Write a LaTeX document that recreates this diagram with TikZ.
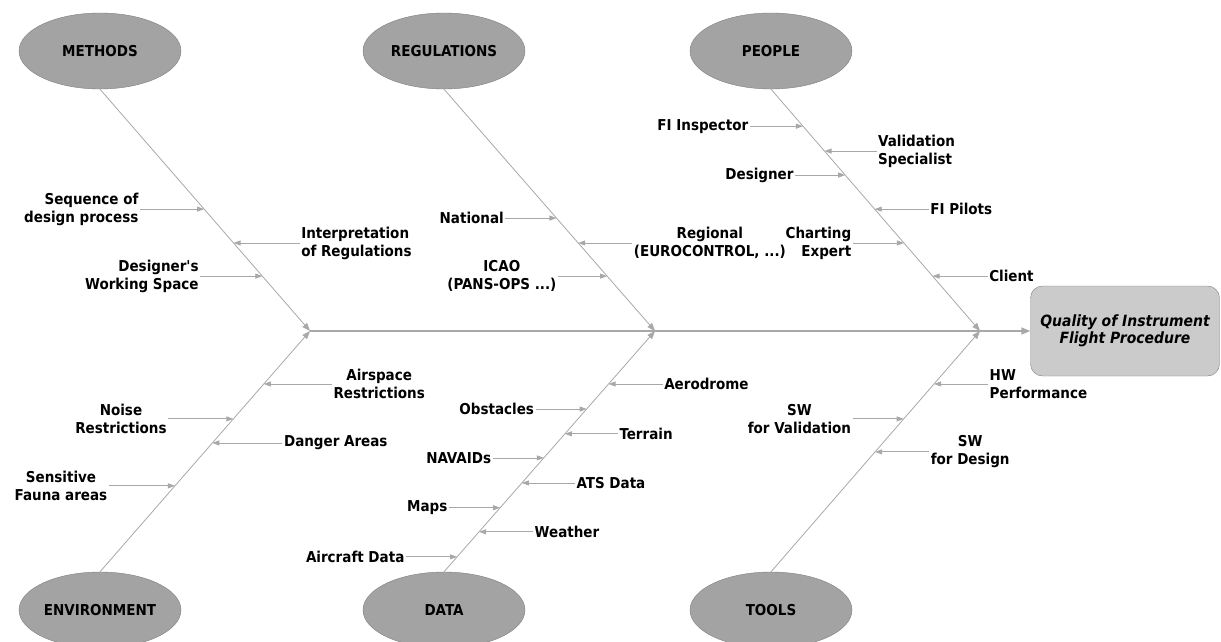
\documentclass[tikz,border=0pt]{standalone}
\usepackage{fontspec}
\setmainfont{DejaVu Sans Condensed}
\usetikzlibrary{shapes.geometric,positioning,arrows.meta}
\definecolor{bonegray}{HTML}{A8A8A8}
\definecolor{catfill}{HTML}{A3A3A3}
\definecolor{catline}{HTML}{7F7F7F}
\definecolor{effectfill}{HTML}{CBCBCB}

\begin{document}
\begin{tikzpicture}[x=1pt, y=-1pt,
    cat/.style={ellipse, draw=catline, fill=catfill, minimum width=162pt, minimum height=76pt,
        inner sep=0pt, font=\bfseries\fontsize{15}{18}\selectfont},
    effect/.style={draw=catline, fill=effectfill, rounded corners=12pt, minimum width=189pt,
        minimum height=90pt, align=center, font=\bfseries\itshape\fontsize{15.5}{17.5}\selectfont},
    lbl/.style={inner sep=1.5pt, font=\bfseries\fontsize{15}{18}\selectfont},
    bone/.style={draw=bonegray, line width=0.8pt, -{Triangle[length=8pt,width=6pt]}},
    sub/.style={draw=bonegray, line width=0.8pt, -{Triangle[length=7pt,width=5pt]}},
    spine/.style={draw=bonegray, line width=1.4pt, -{Triangle[length=9pt,width=7pt]}}]
        \useasboundingbox (0,0) rectangle (1221,642);

        % categories
        \node[cat] (met) at (100,51) {METHODS};
        \node[cat] (reg) at (444,51) {REGULATIONS};
        \node[cat] (peo) at (771,51) {PEOPLE};
        \node[cat] (env) at (100,610) {ENVIRONMENT};
        \node[cat] (dat) at (444,610) {DATA};
        \node[cat] (too) at (771,610) {TOOLS};

        \node[effect] (qual) at (1125,331) {Quality of Instrument\\Flight Procedure};

        \coordinate (j1) at (310,331);
        \coordinate (j2) at (655,331);
        \coordinate (j3) at (980,331);

        \draw[spine] (j1) -- (qual);

        \draw[bone] (met.south) -- (j1);
        \draw[bone] (reg.south) -- (j2);
        \draw[bone] (peo.south) -- (j3);
        \draw[bone] (env.north) -- (j1);
        \draw[bone] (dat.north) -- (j2);
        \draw[bone] (too.north) -- (j3);

        % points on the bones
        \path (met.south) -- (j1) coordinate[pos=.496] (m1) coordinate[pos=.636] (m2) coordinate[pos=.773] (m3);
        \path (reg.south) -- (j2) coordinate[pos=.533] (r1) coordinate[pos=.636] (r2) coordinate[pos=.773] (r3);
        \path (peo.south) -- (j3) coordinate[pos=.153] (p1) coordinate[pos=.256] (p2) coordinate[pos=.355] (p3)
            coordinate[pos=.496] (p4) coordinate[pos=.636] (p5) coordinate[pos=.773] (p6);
        \path (env.north) -- (j1) coordinate[pos=.780] (e1) coordinate[pos=.635] (e2) coordinate[pos=.535] (e3)
            coordinate[pos=.357] (e4);
        \path (dat.north) -- (j2) coordinate[pos=.780] (d1) coordinate[pos=.676] (d2) coordinate[pos=.573] (d3)
            coordinate[pos=.473] (d4) coordinate[pos=.369] (d5) coordinate[pos=.266] (d6)
            coordinate[pos=.166] (d7) coordinate[pos=.062] (d8);
        \path (too.north) -- (j3) coordinate[pos=.780] (t1) coordinate[pos=.635] (t2) coordinate[pos=.498] (t3);

        % methods
        \node[lbl, left=64pt of m1, align=right] (seq) {Sequence of\\design process};
        \draw[sub] (seq) -- (m1);
        \node[lbl, right=66pt of m2, align=left] (interp) {Interpretation\\of Regulations};
        \draw[sub] (interp) -- (m2);
        \node[lbl, left=62pt of m3, align=right] (space) {Designer\textquotesingle s\\Working Space};
        \draw[sub] (space) -- (m3);

        % regulations
        \node[lbl, left=51pt of r1] (natl) {National};
        \draw[sub] (natl) -- (r1);
        \node[lbl, right=54pt of r2, align=center] (regl) {Regional\\(EUROCONTROL, ...)};
        \draw[sub] (regl) -- (r2);
        \node[lbl, left=49pt of r3, align=center] (icao) {ICAO\\(PANS-OPS ...)};
        \draw[sub] (icao) -- (r3);

        % people
        \node[lbl, left=53pt of p1] (insp) {FI Inspector};
        \draw[sub] (insp) -- (p1);
        \node[lbl, right=52pt of p2, align=left] (valsp) {Validation\\Specialist};
        \draw[sub] (valsp) -- (p2);
        \node[lbl, left=50pt of p3] (desg) {Designer};
        \draw[sub] (desg) -- (p3);
        \node[lbl, right=54pt of p4] (pilots) {FI Pilots};
        \draw[sub] (pilots) -- (p4);
        \node[lbl, left=51pt of p5, align=right] (chart) {Charting\\Expert};
        \draw[sub] (chart) -- (p5);
        \node[lbl, right=55pt of p6] (client) {Client};
        \draw[sub] (client) -- (p6);

        % environment
        \node[lbl, right=68pt of e1, align=center] (airsp) {Airspace\\Restrictions};
        \draw[sub] (airsp) -- (e1);
        \node[lbl, left=65pt of e2, align=center] (noise) {Noise\\Restrictions};
        \draw[sub] (noise) -- (e2);
        \node[lbl, right=70pt of e3] (danger) {Danger Areas};
        \draw[sub] (danger) -- (e3);
        \node[lbl, left=66pt of e4, align=center] (fauna) {Sensitive\\Fauna areas};
        \draw[sub] (fauna) -- (e4);

        % data
        \node[lbl, right=54pt of d1] (aero) {Aerodrome};
        \draw[sub] (aero) -- (d1);
        \node[lbl, left=51pt of d2] (obst) {Obstacles};
        \draw[sub] (obst) -- (d2);
        \node[lbl, right=53pt of d3] (terr) {Terrain};
        \draw[sub] (terr) -- (d3);
        \node[lbl, left=51pt of d4] (navaid) {NAVAIDs};
        \draw[sub] (navaid) -- (d4);
        \node[lbl, right=53pt of d5] (ats) {ATS Data};
        \draw[sub] (ats) -- (d5);
        \node[lbl, left=51pt of d6] (maps) {Maps};
        \draw[sub] (maps) -- (d6);
        \node[lbl, right=54pt of d7] (wx) {Weather};
        \draw[sub] (wx) -- (d7);
        \node[lbl, left=51pt of d8] (acft) {Aircraft Data};
        \draw[sub] (acft) -- (d8);

        % tools
        \node[lbl, right=54pt of t1, align=left] (hw) {HW\\Performance};
        \draw[sub] (hw) -- (t1);
        \node[lbl, left=51pt of t2, align=center] (swval) {SW\\for Validation};
        \draw[sub] (swval) -- (t2);
        \node[lbl, right=54pt of t3, align=center] (swdes) {SW\\for Design};
        \draw[sub] (swdes) -- (t3);

    \end{tikzpicture}
\end{document}
